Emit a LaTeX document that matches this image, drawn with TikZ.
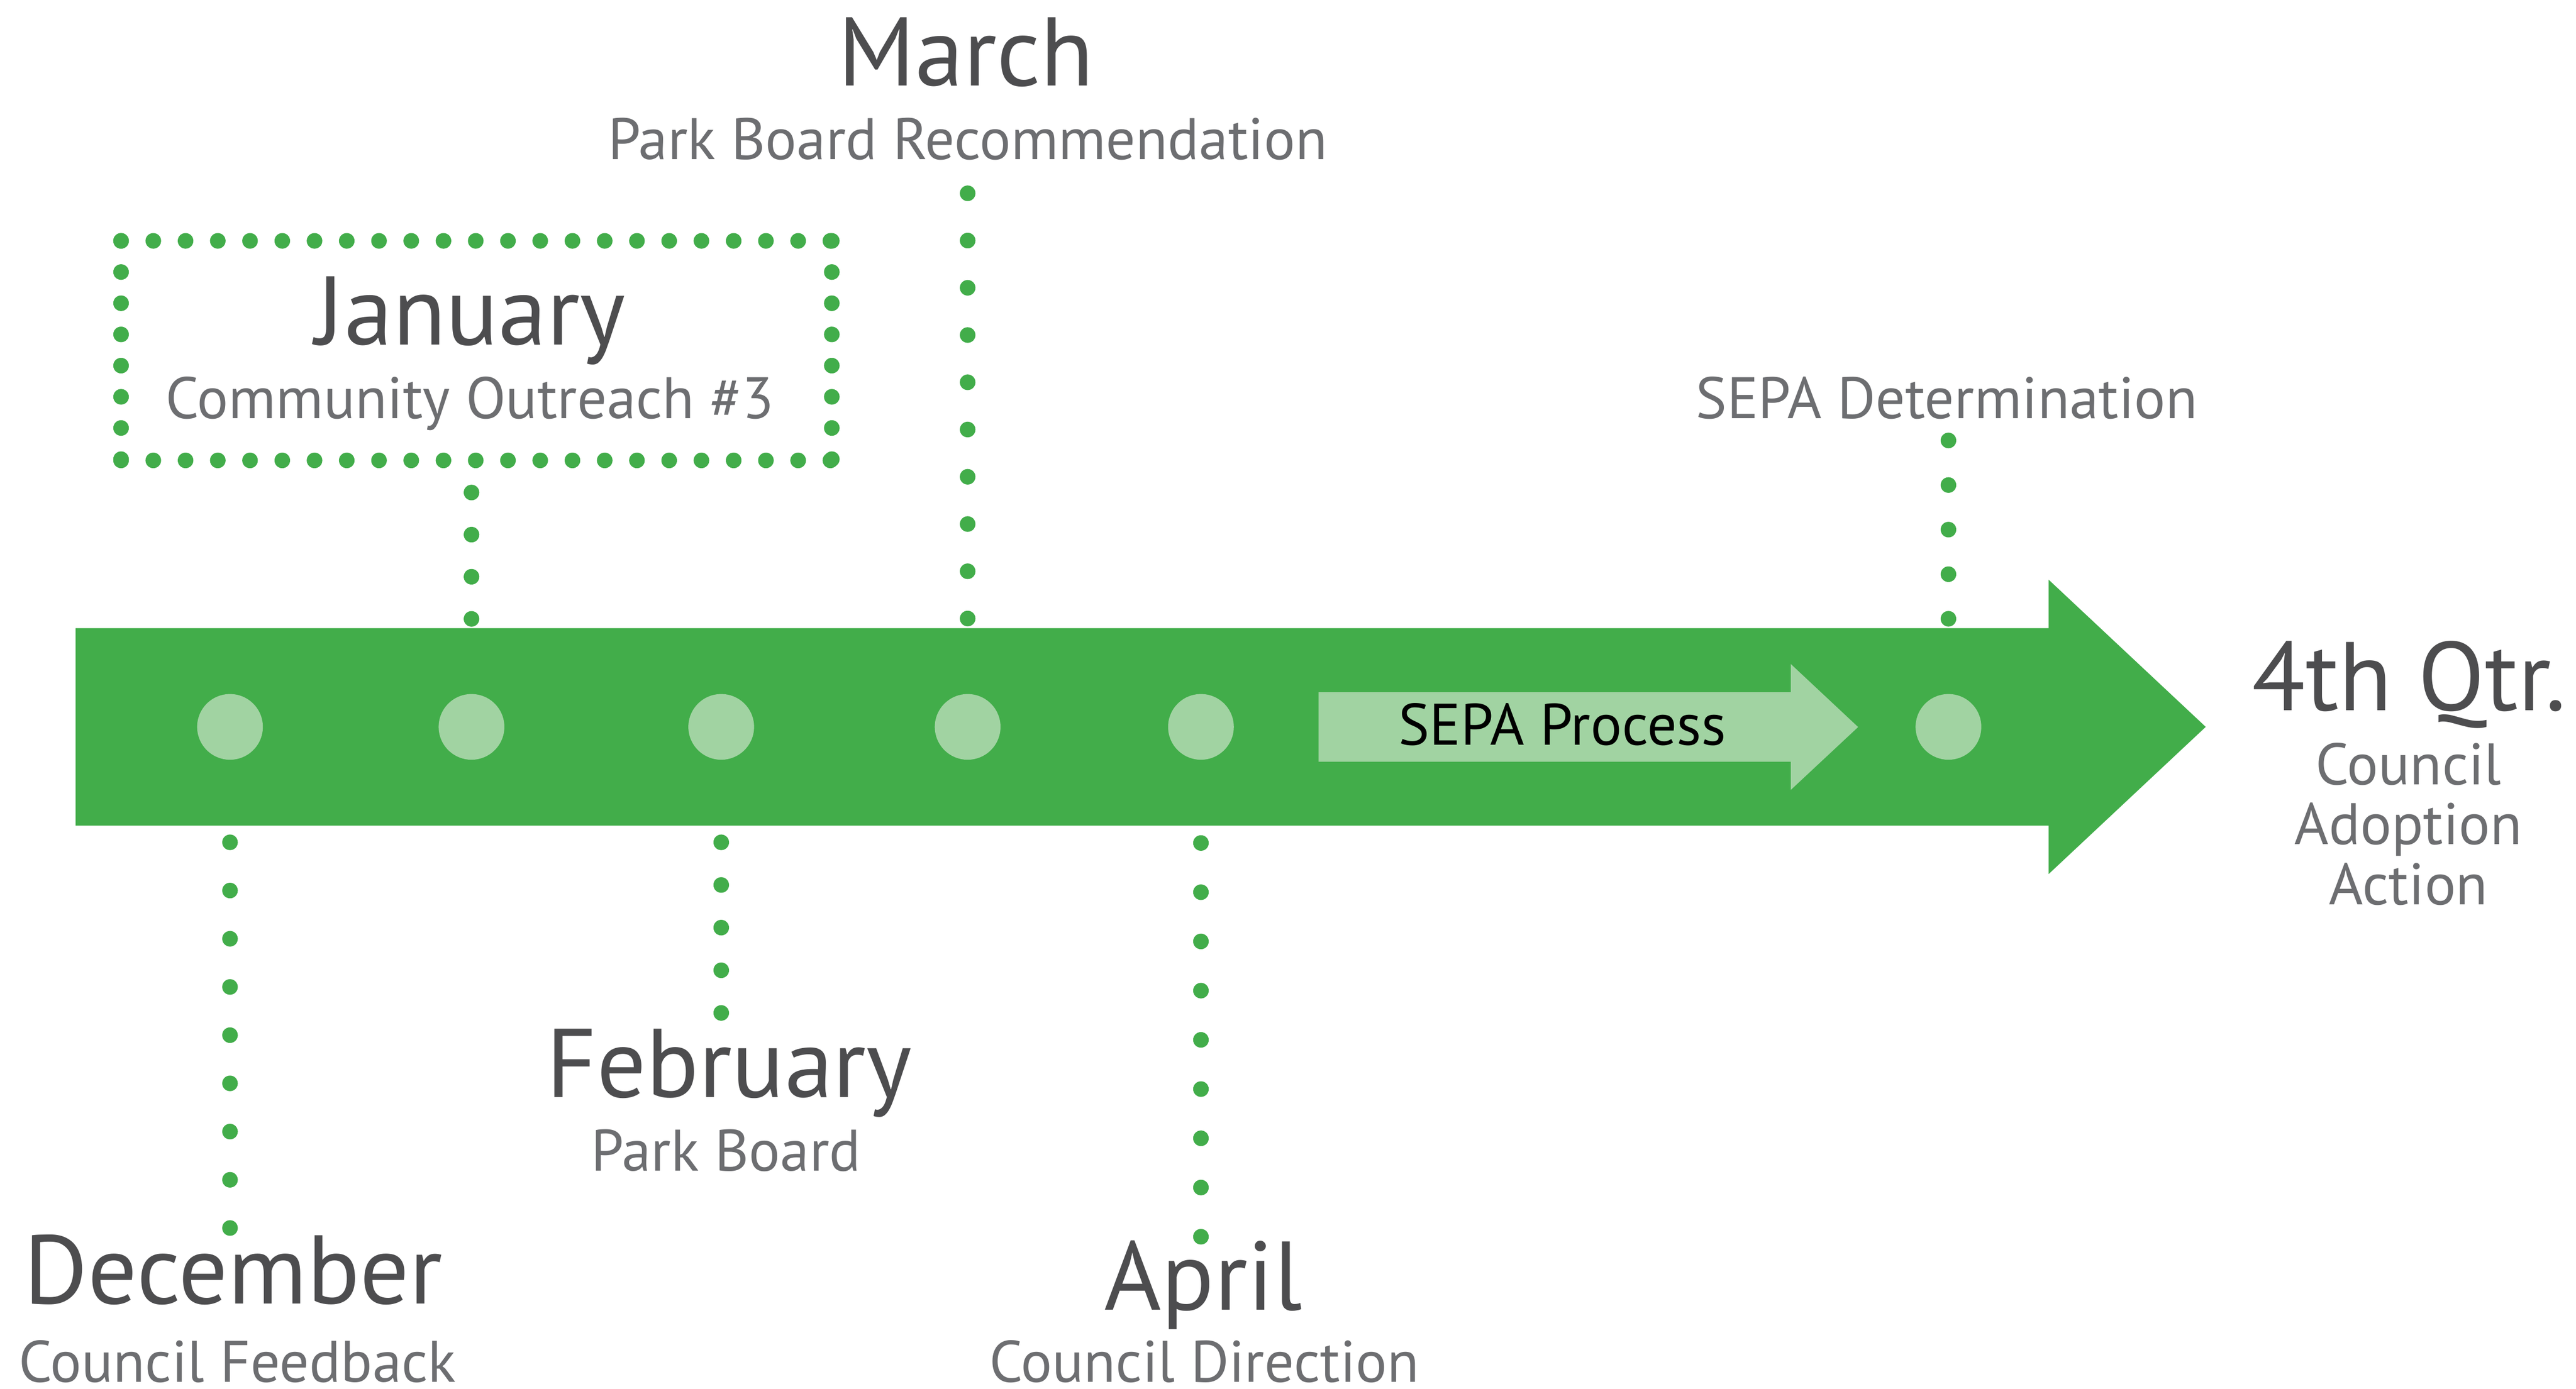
\documentclass[tikz,border=0pt]{standalone}
\usepackage{fontspec}
\setmainfont{PT Sans}
\usepackage{tikz}
\usetikzlibrary{positioning}
\usetikzlibrary{calc}
\definecolor{timegreen}{HTML}{42AD4A}
\definecolor{palegreen}{HTML}{A1D3A2}
\definecolor{monthgray}{HTML}{4D4D4F}
\definecolor{eventgray}{HTML}{6D6E71}
\tikzstyle{month} = [anchor = base, inner sep = 0pt, text = monthgray, font = \fontsize{33.8}{40}\selectfont]
\tikzstyle{event} = [anchor = base, inner sep = 0pt, text = eventgray, font = \fontsize{20.3}{24}\selectfont]
\tikzstyle{milestone} = [circle, fill = palegreen, minimum size = 0.8cm, inner sep = 0pt]
\tikzset{dotline/.style = {draw = timegreen, line width = 0.19cm, line cap = round, dash pattern = on 0cm off #1}}

\begin{document}
\begin{tikzpicture}[x = 0.02cm, y = -0.02cm]
	\useasboundingbox (0,0) rectangle (1568,845.6);

		% Main arrow
		\fill[timegreen] (46,382.5) -- (1247,382.5) -- (1247,353) -- (1342.6,442.6)
		-- (1247,532.2) -- (1247,502.7) -- (46,502.7) -- cycle;

		% SEPA process arrow
		\fill[palegreen] (802.6,421.5) -- (1090,421.5) -- (1090,404.3) -- (1131,442.7)
		-- (1090,481) -- (1090,463.8) -- (802.6,463.8) -- cycle;
		\node[event, text = black] (sepaproc) at (951,453.6) {SEPA Process};

		% Milestones on the arrow
		\foreach \x/\n in {140/dec, 287/jan, 439/feb, 589/mar, 731/apr, 1186/det}
			\node[milestone] (\n) at (\x,442.6) {};

		% Connector ends
		\coordinate (decA) at (140,512.9);
		\coordinate (decB) at (140,747.9);
		\coordinate (janA) at (287,299.9);
		\coordinate (janB) at (287,376.9);
		\coordinate (febA) at (439,512.9);
		\coordinate (febB) at (439,616.9);
		\coordinate (marA) at (589,117.7);
		\coordinate (marB) at (589,376.9);
		\coordinate (aprA) at (731,513.3);
		\coordinate (aprB) at (731,753.3);
		\coordinate (detA) at (1186,268.2);
		\coordinate (detB) at (1186,376.9);

		% December
		\node[month] (decmonth) at (142,793.9) {December};
		\node[event] (decevent) at (144.5,841.5) {Council Feedback};

		% January box
		\node[rectangle, minimum width = 8.64cm, minimum height = 2.66cm] (janbox) at (290,213.5) {};
		\node[month] (janmonth) at (286.5,209.8) {January};
		\node[event] (janevent) at (286,254.9) {Community Outreach \#3};
		\draw[dotline = 0.3926cm] (janbox.north west) -- (janbox.north east);
		\draw[dotline = 0.3926cm] (janbox.south west) -- (janbox.south east);
		\draw[dotline = 0.3799cm] (janbox.north west) -- (janbox.south west);
		\draw[dotline = 0.3799cm] (janbox.north east) -- (janbox.south east);

		% February
		\node[month] (febmonth) at (443.7,668) {February};
		\node[event] (febevent) at (442,712.9) {Park Board};

		% March
		\node[month] (marmonth) at (588,52.1) {March};
		\node[event] (marevent) at (589,97.1) {Park Board Recommendation};

		% April
		\node[month] (aprmonth) at (732.5,797.7) {April};
		\node[event] (aprevent) at (733,841.5) {Council Direction};

		% SEPA determination
		\node[event] (detevent) at (1185,254.8) {SEPA Determination};

		% 4th quarter
		\node[month] (qtrmonth) at (1466.5,432.7) {4th Qtr.};
		\node[event] (qtrevent1) at (1466,477.9) {Council};
		\node[event] (qtrevent2) at (1466,514.2) {Adoption};
		\node[event] (qtrevent3) at (1466,550.7) {Action};

		% Dotted connectors
		\draw[dotline = 0.5872cm] (decA) -- (decB);
		\draw[dotline = 0.5130cm] (janA) -- (janB);
		\draw[dotline = 0.5195cm] (febA) -- (febB);
		\draw[dotline = 0.5755cm] (marA) -- (marB);
		\draw[dotline = 0.5995cm] (aprA) -- (aprB);
		\draw[dotline = 0.5430cm] (detA) -- (detB);

	\end{tikzpicture}
\end{document}
